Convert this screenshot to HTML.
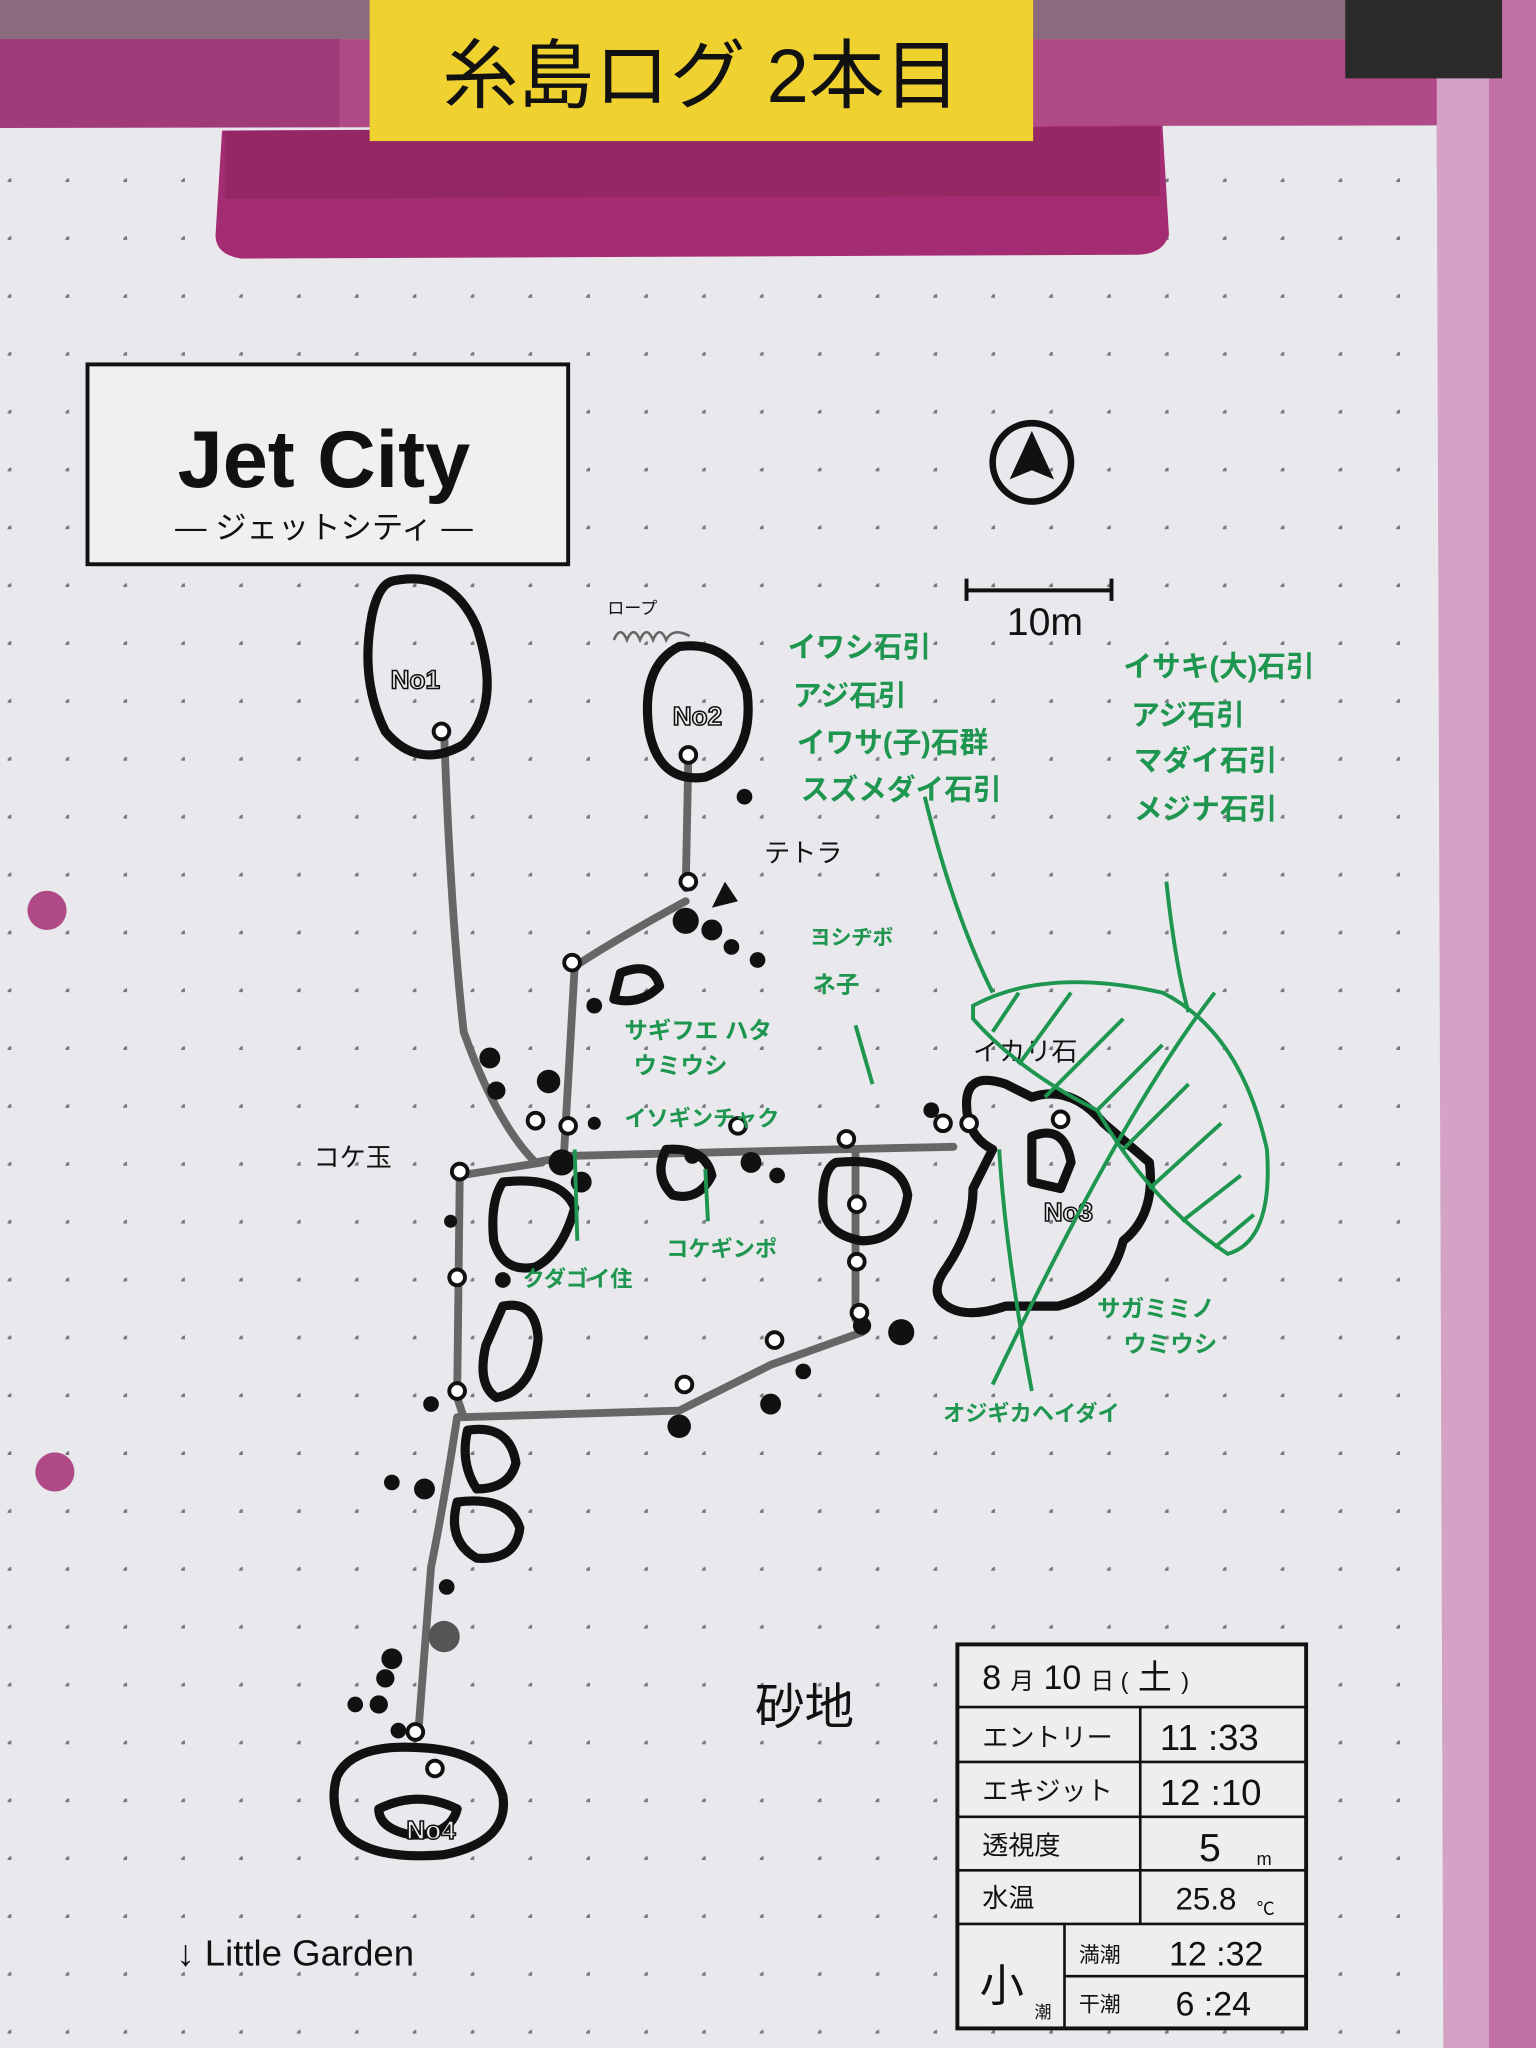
<!DOCTYPE html>
<html><head><meta charset="utf-8"><style>
html,body{margin:0;padding:0;width:1536px;height:2048px;overflow:hidden;background:#e8e8ec}
svg{display:block}
text{font-family:"Liberation Sans","Noto Sans CJK JP",sans-serif}
</style></head><body>
<svg width="1536" height="2048" viewBox="0 0 1176 1568" preserveAspectRatio="none" xmlns="http://www.w3.org/2000/svg">
<defs>
<pattern id="dots" x="53" y="228" width="44.3" height="44.3" patternUnits="userSpaceOnUse">
<circle cx="44.3" cy="44.3" r="3" fill="#7a7a7e"/></pattern>
</defs>
<rect x="0" y="0" width="1176" height="1568" fill="#b04a86"/>
<rect x="0" y="0" width="1176" height="30" fill="#8a6a7c"/>
<rect x="0" y="30" width="260" height="75" fill="#a03a78"/>
<rect x="1100" y="0" width="76" height="1568" fill="#d4a2c4"/>
<rect x="1140" y="0" width="36" height="1568" fill="#c070a4"/>
<rect x="1030" y="0" width="120" height="60" fill="#2a2a2a"/>
<path d="M0 98 L1100 96 L1105 1568 L0 1568 Z" fill="#e9e9ed"/>
<rect x="0" y="98" width="1104" height="1470" fill="url(#dots)"/>
<circle cx="36" cy="697" r="15" fill="#b04a86"/>
<circle cx="42" cy="1127" r="15" fill="#b04a86"/>
<path d="M170 100 L890 96 L895 180 Q890 195 870 195 L185 198 Q165 195 165 180 Z" fill="#a42c72"/>
<path d="M172 100 L888 97 L888 150 L172 152 Z" fill="#8e245e" opacity="0.6"/>
<rect x="283" y="0" width="508" height="108" fill="#efd130"/>
<text x="537" y="78" font-size="58" text-anchor="middle" fill="#111">糸島ログ 2本目</text>
<rect x="67" y="279" width="368" height="153" fill="#f0f0f2" stroke="#111" stroke-width="3"/>
<text x="248" y="373" font-size="62" text-anchor="middle" fill="#111" font-weight="bold">Jet City</text>
<text x="248" y="412" font-size="24" text-anchor="middle" fill="#111">― ジェットシティ ―</text>
<circle cx="790" cy="354" r="30" fill="none" stroke="#111" stroke-width="5"/>
<path d="M790 330 L807 367 L790 360 L773 367 Z" fill="#111"/>
<path d="M740 443 V460 M740 452 H851 M851 443 V460" stroke="#111" stroke-width="3" fill="none"/>
<text x="800" y="486" font-size="30" text-anchor="middle" fill="#111">10m</text>
<g stroke="#666" stroke-width="6" fill="none" stroke-linecap="round">
<path d="M340 560 Q345 700 355 790 Q380 860 410 890"/>
<path d="M527 580 L525 680"/>
<path d="M525 690 Q470 720 440 740 L432 880"/>
<path d="M410 890 L435 885 L640 880 L730 878"/>
<path d="M352 900 L415 890"/>
<path d="M352 900 L350 1070 L355 1085 L520 1080 L590 1045 L660 1020"/>
<path d="M655 880 L655 1010"/>
<path d="M350 1085 Q340 1150 330 1200 L320 1330"/>
</g>
<g fill="none" stroke="#111" stroke-width="7" stroke-linejoin="round">
<path d="M300 445 Q345 435 365 480 Q385 540 355 570 Q320 590 295 560 Q275 520 285 470 Q290 448 300 445Z"/>
<path d="M520 495 Q560 490 572 530 Q578 580 540 595 Q505 600 497 560 Q490 510 520 495Z"/>
<path d="M740 845 Q740 820 770 830 L790 840 Q820 830 845 860 L880 890 Q885 930 860 950 Q850 990 810 1000 L770 1000 Q740 1010 725 1000 Q710 990 725 970 Q745 940 745 910 L760 880 Q740 870 740 845Z"/>
<path d="M790 870 Q815 860 820 890 L812 910 L790 905Z"/>
<path d="M640 890 Q690 885 695 915 Q690 950 660 950 Q630 945 630 920 Q630 895 640 890Z"/>
<path d="M258 1360 Q270 1335 320 1338 Q375 1340 385 1375 Q390 1410 340 1420 Q280 1425 262 1400 Q252 1380 258 1360Z"/>
<path d="M290 1385 Q320 1370 350 1385 Q345 1405 315 1405 Q290 1400 290 1385Z"/>
<path d="M385 905 Q430 900 440 925 Q430 960 410 970 Q385 975 378 950 Q375 920 385 905Z"/>
<path d="M385 1000 Q410 995 412 1025 Q408 1065 380 1070 Q365 1060 372 1030Z"/>
<path d="M358 1095 Q390 1090 395 1120 Q390 1140 365 1140 Q352 1120 358 1095Z"/>
<path d="M350 1150 Q390 1145 398 1170 Q395 1195 365 1193 Q342 1180 350 1150Z"/>
<path d="M510 880 Q540 878 545 900 Q535 920 515 915 Q500 900 510 880Z"/>
<path d="M475 745 Q500 735 505 755 Q490 770 470 765Z"/>
</g>
<g fill="#111">
<circle cx="375" cy="810" r="8"/><circle cx="380" cy="835" r="7"/><circle cx="420" cy="828" r="9"/>
<circle cx="430" cy="890" r="10"/><circle cx="445" cy="905" r="8"/><circle cx="455" cy="860" r="5"/>
<circle cx="525" cy="705" r="10"/><circle cx="545" cy="712" r="8"/><circle cx="560" cy="725" r="6"/><circle cx="580" cy="735" r="6"/><circle cx="455" cy="770" r="6"/>
<circle cx="570" cy="610" r="6"/><path d="M545 695 L555 675 L565 690Z"/>
<circle cx="575" cy="890" r="8"/><circle cx="595" cy="900" r="6"/><circle cx="530" cy="885" r="6"/>
<circle cx="660" cy="1015" r="7"/><circle cx="690" cy="1020" r="10"/><circle cx="615" cy="1050" r="6"/><circle cx="590" cy="1075" r="8"/>
<circle cx="520" cy="1092" r="9"/><circle cx="330" cy="1075" r="6"/><circle cx="345" cy="935" r="5"/>
<circle cx="300" cy="1135" r="6"/><circle cx="325" cy="1140" r="8"/><circle cx="342" cy="1215" r="6"/>
<circle cx="340" cy="1253" r="12" fill="#555"/><circle cx="300" cy="1270" r="8"/><circle cx="295" cy="1285" r="7"/>
<circle cx="272" cy="1305" r="6"/><circle cx="290" cy="1305" r="7"/><circle cx="305" cy="1325" r="6"/>
<circle cx="385" cy="980" r="6"/><circle cx="713" cy="850" r="6"/>
</g>
<g fill="#fff" stroke="#111" stroke-width="3">
<circle cx="338" cy="560" r="6"/><circle cx="527" cy="578" r="6"/><circle cx="527" cy="675" r="6"/>
<circle cx="438" cy="737" r="6"/><circle cx="410" cy="858" r="6"/><circle cx="435" cy="862" r="6"/>
<circle cx="352" cy="897" r="6"/><circle cx="350" cy="978" r="6"/><circle cx="350" cy="1065" r="6"/>
<circle cx="565" cy="862" r="6"/><circle cx="648" cy="872" r="6"/><circle cx="722" cy="860" r="6"/><circle cx="742" cy="860" r="6"/>
<circle cx="812" cy="857" r="6"/><circle cx="656" cy="922" r="6"/><circle cx="656" cy="966" r="6"/><circle cx="658" cy="1005" r="6"/>
<circle cx="593" cy="1026" r="6"/><circle cx="524" cy="1060" r="6"/><circle cx="318" cy="1326" r="6"/><circle cx="333" cy="1354" r="6"/>
</g>
<g fill="#111" font-weight="bold">
<text x="318" y="527" font-size="20" text-anchor="middle" fill="#eee" stroke="#111" stroke-width="1.2">No1</text>
<text x="534" y="555" font-size="20" text-anchor="middle" fill="#eee" stroke="#111" stroke-width="1.2">No2</text>
<text x="818" y="935" font-size="20" text-anchor="middle" fill="#eee" stroke="#111" stroke-width="1.2">No3</text>
<text x="330" y="1408" font-size="20" text-anchor="middle" fill="#eee" stroke="#111" stroke-width="1.2">No4</text>
</g>
<g fill="#111" font-size="20">
<text x="465" y="470" font-size="13">ロープ</text>
<text x="585" y="660">テトラ</text>
<text x="745" y="812">イカリ石</text>
<text x="240" y="893">コケ玉</text>
<text x="578" y="1320" font-size="38">砂地</text>
<text x="135" y="1505" font-size="28">↓ Little Garden</text>
</g>
<path d="M470 490 q5 -12 10 0 q5 -12 10 0 q5 -12 10 0 q5 -12 10 0 q5 -10 18 -3" stroke="#666" stroke-width="2" fill="none"/>
<g fill="#1e9650" font-size="22" font-weight="bold">
<text x="603" y="503">イワシ石引</text><text x="607" y="540">アジ石引</text><text x="610" y="576">イワサ(子)石群</text><text x="613" y="612">スズメダイ石引</text>
<text x="860" y="518">イサキ(大)石引</text><text x="866" y="555">アジ石引</text><text x="868" y="590">マダイ石引</text><text x="868" y="627">メジナ石引</text>
<text x="620" y="723" font-size="16">ヨシヂボ</text><text x="622" y="760" font-size="18">ネ子</text>
<text x="478" y="795" font-size="18">サギフエ ハタ</text><text x="485" y="822" font-size="18">ウミウシ</text>
<text x="478" y="862" font-size="17">イソギンチャク</text>
<text x="400" y="985" font-size="17">クダゴイ住</text><text x="510" y="962" font-size="17">コケギンポ</text>
<text x="840" y="1008" font-size="18">サガミミノ</text><text x="860" y="1035" font-size="18">ウミウシ</text>
<text x="722" y="1088" font-size="17">オジギカヘイダイ</text>
</g>
<g stroke="#1e9650" stroke-width="3" fill="none">
<path d="M708 610 Q730 700 760 760"/>
<path d="M655 785 L668 830"/>
<path d="M893 675 Q900 740 910 775"/>
<path d="M745 770 Q800 740 890 760 Q950 790 970 880 Q975 950 940 960 Q880 920 840 850 Q780 820 745 780Z"/>
<path d="M930 760 Q860 850 760 1060"/>
<path d="M765 880 Q770 960 790 1065"/>
<path d="M780 760 L760 790 M820 760 L780 815 M860 780 L800 840 M890 800 L840 850 M910 830 L860 880 M935 860 L880 910 M950 900 L905 935 M960 930 L930 955"/>
<path d="M440 880 L442 950 M540 895 L542 935"/>
</g>
<g stroke="#111" fill="none">
<rect x="733" y="1259" width="267" height="294" stroke-width="3" fill="#eeeef0"/>
<path d="M733 1307 H1000 M733 1349 H1000 M733 1391 H1000 M733 1432 H1000 M733 1473 H1000 M815 1513 H1000 M873 1307 V1473 M815 1473 V1553" stroke-width="2"/>
</g>
<g fill="#111" font-size="20">
<text x="752" y="1293" font-size="26">8 <tspan font-size="18">月</tspan> 10 <tspan font-size="18">日 (</tspan> 土 <tspan font-size="18">)</tspan></text>
<text x="752" y="1337">エントリー</text><text x="752" y="1378">エキジット</text><text x="752" y="1420">透視度</text><text x="752" y="1460">水温</text>
<text x="888" y="1340" font-size="28">11 :33</text><text x="888" y="1382" font-size="28">12 :10</text>
<text x="918" y="1425" font-size="30">5</text><text x="962" y="1428" font-size="14">m</text>
<text x="900" y="1462" font-size="24">25.8</text><text x="962" y="1466" font-size="14">℃</text>
<text x="750" y="1532" font-size="34">小</text><text x="792" y="1545" font-size="13">潮</text>
<text x="826" y="1502" font-size="16">満潮</text><text x="826" y="1540" font-size="16">干潮</text>
<text x="895" y="1505" font-size="26">12 :32</text><text x="900" y="1543" font-size="26">6 :24</text>
</g>
</svg>
</body></html>
